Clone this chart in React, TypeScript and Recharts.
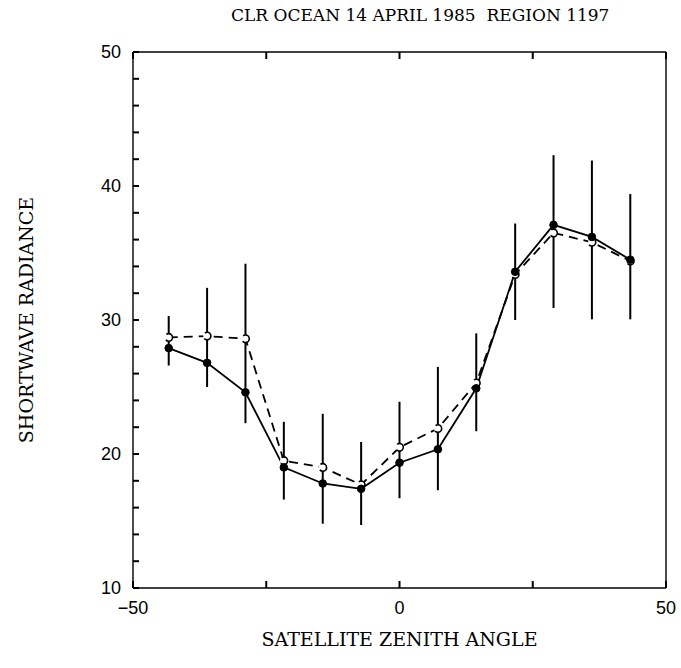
import {
  ComposedChart,
  Line,
  XAxis,
  YAxis,
  ErrorBar,
} from "recharts";

// satellite zenith angle of each bin
const angles = [-43.3, -36.1, -28.9, -21.7, -14.4, -7.2, 0, 7.2, 14.4, 21.7, 28.9, 36.1, 43.3];
// solid line, filled circles
const observed = [27.9, 26.8, 24.6, 19.0, 17.8, 17.4, 19.35, 20.35, 24.9, 33.6, 37.1, 36.2, 34.5];
// dashed line, open circles
const model = [28.7, 28.8, 28.6, 19.5, 19.0, 17.7, 20.5, 21.9, 25.3, 33.4, 36.5, 35.8, 34.4];
// vertical bars: bottom and top
const barLow = [26.6, 25.0, 22.3, 16.6, 14.8, 14.7, 16.7, 17.3, 21.7, 30.0, 30.9, 30.05, 30.05];
const barHigh = [30.3, 32.4, 34.2, 22.4, 23.0, 20.9, 23.9, 26.5, 29.0, 37.2, 42.3, 41.9, 39.4];

const xTicks = [-50, -25, 0, 25, 50];
const xLabels = [-50, 0, 50];
const yTicks = [10, 12, 14, 16, 18, 20, 22, 24, 26, 28, 30, 32, 34, 36, 38, 40, 42, 44, 46, 48, 50];
const yLabels = [10, 20, 30, 40, 50];

const data = angles.map((a, i) => ({
  angle: a,
  observed: observed[i],
  model: model[i],
  err: [observed[i] - barLow[i], barHigh[i] - observed[i]],
}));

const serif = "'DejaVu Serif', serif";
const sans = "'Liberation Sans', Arial, sans-serif";

const X_MARGIN = 13;
const Y_MARGIN = 12;
const X_LEN = 7;
const Y_LEN = 6;
const TICK_W = 2;

const fmt = (v: number) => (v < 0 ? `\u2212${-v}` : String(v));

// tick marks point into the plot; labels only on chosen values
function BottomTick(props: any) {
  const x = Number(props.x);
  const y = Number(props.y);
  const axisY = y - X_MARGIN;
  return (
    <g>
      <line x1={x} x2={x} y1={axisY} y2={axisY - X_LEN} stroke="#000" strokeWidth={TICK_W} />
      {xLabels.includes(props.payload.value) && (
        <text x={x} y={y} dy="0.71em" textAnchor="middle" fontSize={18} fontFamily={sans} fill="#000">
          {fmt(props.payload.value)}
        </text>
      )}
    </g>
  );
}

function TopTick(props: any) {
  const x = Number(props.x);
  const y = Number(props.y);
  return (
    <g>
      <line x1={x} x2={x} y1={y} y2={y + X_LEN} stroke="#000" strokeWidth={TICK_W} />
    </g>
  );
}

function LeftTick(props: any) {
  const x = Number(props.x);
  const y = Number(props.y);
  const axisX = x + Y_MARGIN;
  return (
    <g>
      <line x1={axisX} x2={axisX + Y_LEN} y1={y} y2={y} stroke="#000" strokeWidth={TICK_W} />
      {yLabels.includes(props.payload.value) && (
        <text x={x} y={y} dy="0.355em" textAnchor="end" fontSize={18} fontFamily={sans} fill="#000">
          {fmt(props.payload.value)}
        </text>
      )}
    </g>
  );
}

function RightTick(props: any) {
  const x = Number(props.x);
  const y = Number(props.y);
  return (
    <g>
      <line x1={x} x2={x - Y_LEN} y1={y} y2={y} stroke="#000" strokeWidth={TICK_W} />
    </g>
  );
}

export default function App() {
  return (
    <div
      style={{
        position: "absolute",
        left: 0,
        top: 0,
        width: 681,
        height: 668,
        background: "#fff",
      }}
    >
      <div
        style={{
          position: "absolute",
          top: 5,
          left: 231,
          fontFamily: serif,
          fontSize: 17,
          whiteSpace: "pre",
          color: "#000",
        }}
      >
        CLR OCEAN 14 APRIL 1985  REGION 1197
      </div>
      <ComposedChart
        width={681}
        height={668}
        data={data}
        margin={{ top: 51, right: 14, bottom: 0, left: 0 }}
      >
        <XAxis
          xAxisId="b"
          dataKey="angle"
          type="number"
          domain={[-50, 50]}
          ticks={xTicks}
          interval={0}
          tickLine={false}
          tickSize={0}
          tickMargin={X_MARGIN}
          height={80}
          stroke="#000"
          strokeWidth={1.4}
          tick={<BottomTick />}
          label={{
            value: "SATELLITE ZENITH ANGLE",
            position: "insideBottom",
            offset: 22,
            style: { fontFamily: serif, fontSize: 19, fill: "#000" },
          }}
        />
        <XAxis
          xAxisId="t"
          orientation="top"
          dataKey="angle"
          type="number"
          domain={[-50, 50]}
          ticks={xTicks}
          interval={0}
          tickLine={false}
          tickSize={0}
          tickMargin={0}
          tick={<TopTick />}
          height={1}
          stroke="#000"
          strokeWidth={1.4}
        />
        <YAxis
          yAxisId="l"
          type="number"
          domain={[10, 50]}
          ticks={yTicks}
          interval={0}
          tickLine={false}
          tickSize={0}
          tickMargin={Y_MARGIN}
          width={133}
          stroke="#000"
          strokeWidth={1.4}
          tick={<LeftTick />}
          label={{
            value: "SHORTWAVE RADIANCE",
            angle: -90,
            position: "insideLeft",
            offset: 26,
            style: { fontFamily: serif, fontSize: 19, fill: "#000", textAnchor: "middle" },
          }}
        />
        <YAxis
          yAxisId="r"
          orientation="right"
          type="number"
          domain={[10, 50]}
          ticks={yTicks}
          interval={0}
          tickLine={false}
          tickSize={0}
          tickMargin={0}
          tick={<RightTick />}
          width={1}
          stroke="#000"
          strokeWidth={1.4}
        />

        <Line
          xAxisId="b"
          yAxisId="l"
          dataKey="model"
          stroke="#000"
          strokeWidth={1.8}
          strokeDasharray="9 6"
          dot={{ r: 3.8, fill: "#fff", stroke: "#000", strokeWidth: 1.6 }}
          isAnimationActive={false}
        />
        <Line
          xAxisId="b"
          yAxisId="l"
          dataKey="observed"
          stroke="#000"
          strokeWidth={1.8}
          dot={{ r: 3.8, fill: "#000", stroke: "#000", strokeWidth: 1 }}
          isAnimationActive={false}
        >
          <ErrorBar dataKey="err" direction="y" width={0} stroke="#000" strokeWidth={2} />
        </Line>
      </ComposedChart>
    </div>
  );
}
